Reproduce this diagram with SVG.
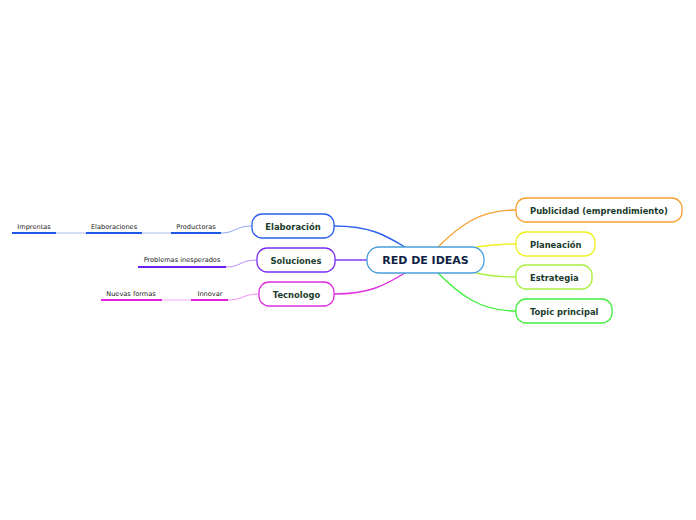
<svg xmlns="http://www.w3.org/2000/svg" width="696" height="520" viewBox="0 0 696 520">
<style>
.node{fill:#ffffff;stroke-width:1.3}
.t{font-family:"DejaVu Sans",Verdana,sans-serif;font-weight:bold;fill:#1b3b2b;font-size:8.4px}
.main{font-family:"DejaVu Sans",Verdana,sans-serif;font-weight:bold;fill:#0f1f45;font-size:11px}
.s{font-family:"DejaVu Sans",Verdana,sans-serif;fill:#222;font-size:6.6px;text-anchor:middle}
.c{fill:none;stroke-width:1.4}
.u{fill:none;stroke-width:2}
.l{fill:none;stroke-width:1}
</style>
<rect width="696" height="520" fill="#ffffff"/>
<g id="connectors">
<path class="c" stroke="#2a5ff0" d="M334,226 C370,226 385,235 405,247"/>
<path class="c" stroke="#7a2ef0" d="M335,260 L367,260"/>
<path class="c" stroke="#e02ee0" d="M334,294 C370,294 385,285 405,273"/>
<path class="c" stroke="#f5a030" d="M438,247 C460,225 480,210 516,210"/>
<path class="c" stroke="#f0f020" d="M476,247 C490,245 500,244 516,244"/>
<path class="c" stroke="#a8f040" d="M476,273 C490,276 500,277 516,277"/>
<path class="c" stroke="#40f040" d="M438,273 C460,295 480,311 516,311"/>
<path class="l" stroke="#8fa8f0" d="M252,226 C235,226 236,233 221,233"/>
<path class="l" stroke="#b890f5" d="M257,260 C240,260 241,267 226,267"/>
<path class="l" stroke="#f090f0" d="M259,294 C243,294 243,300 228,300"/>
<path class="l" stroke="#a8bcf2" d="M56,233 L86,233 M142,233 L171,233"/>
<path class="l" stroke="#f5a8f5" d="M162,300 L191,300"/>
<path class="u" stroke="#1e56e8" d="M12,233 L56,233 M86,233 L142,233 M171,233 L221,233"/>
<path class="u" stroke="#6a1ef0" d="M138,267 L226,267"/>
<path class="u" stroke="#e020e0" d="M101,300 L162,300 M191,300 L228,300"/>
</g>
<g id="central">
<rect class="node" x="367" y="247" width="117" height="26" rx="12" stroke="#4a9fdc"/>
<text class="main" x="425.5" y="264" text-anchor="middle">RED DE IDEAS</text>
</g>
<g id="elaboracion">
<rect class="node" x="252" y="214" width="82" height="24" rx="10" stroke="#2a5ff0"/>
<text class="t" x="293" y="229.5" text-anchor="middle">Elaboración</text>
</g>
<g id="soluciones">
<rect class="node" x="257" y="248" width="78" height="24" rx="10" stroke="#7a2ef0"/>
<text class="t" x="296" y="263.5" text-anchor="middle">Soluciones</text>
</g>
<g id="tecnologo">
<rect class="node" x="259" y="282" width="75" height="24" rx="10" stroke="#e02ee0"/>
<text class="t" x="296.5" y="297.5" text-anchor="middle">Tecnologo</text>
</g>
<g id="publicidad">
<rect class="node" x="516" y="198" width="166" height="24" rx="10" stroke="#f5a030"/>
<text class="t" x="530" y="213.5">Publicidad (emprendimiento)</text>
</g>
<g id="planeacion">
<rect class="node" x="516" y="232" width="79" height="24" rx="10" stroke="#f0f020"/>
<text class="t" x="530" y="247.5">Planeación</text>
</g>
<g id="estrategia">
<rect class="node" x="516" y="265" width="76" height="24" rx="10" stroke="#a8f040"/>
<text class="t" x="530" y="280.5">Estrategia</text>
</g>
<g id="topic">
<rect class="node" x="516" y="299" width="96" height="24" rx="10" stroke="#40f040"/>
<text class="t" x="530" y="314.5">Topic principal</text>
</g>
<g id="imprentas"><text class="s" x="34" y="229">Imprentas</text></g>
<g id="elaboraciones"><text class="s" x="114" y="229">Elaboraciones</text></g>
<g id="productoras"><text class="s" x="196" y="229">Productoras</text></g>
<g id="problemas"><text class="s" x="182" y="262">Problemas inesperados</text></g>
<g id="nuevas"><text class="s" x="131" y="296">Nuevas formas</text></g>
<g id="innovar"><text class="s" x="210" y="296">Innovar</text></g>
</svg>
